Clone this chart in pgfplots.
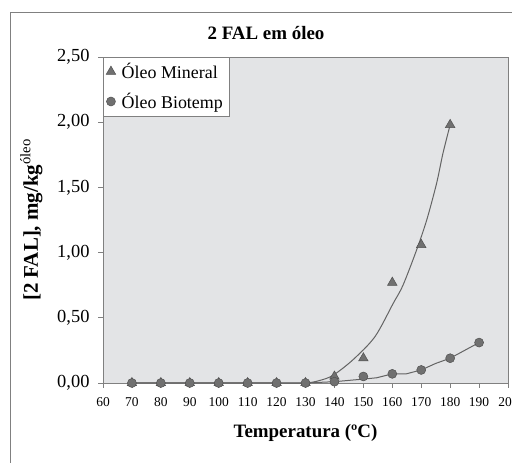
\documentclass[border=0pt]{standalone}
\usepackage{pgfplots}
\pgfplotsset{compat=1.18}
\usepackage{fontspec}
\setmainfont{Liberation Serif}
\definecolor{bgc}{RGB}{227,228,230}
\definecolor{mk}{RGB}{112,112,112}
\definecolor{mke}{RGB}{80,80,80}
\definecolor{ln}{RGB}{100,100,100}
\definecolor{ax}{RGB}{128,128,128}
\begin{document}
\begin{tikzpicture}[x=1bp,y=1bp]
\useasboundingbox (0,0) rectangle (512,463);
\draw[ax, line width=0.8bp] (10,0) -- (10,451) -- (512,451);
\node[font=\fontsize{19}{21}\selectfont\bfseries] at (266,430) {2 FAL em óleo};
\begin{axis}[
  at={(103bp,80bp)}, anchor=south west,
  width=405bp, height=326bp, scale only axis,
  xmin=60, xmax=200, ymin=0, ymax=2.5,
  xtick={60,70,...,200}, ytick={0,0.5,...,2.5},
  xticklabels={60,70,80,90,100,110,120,130,140,150,160,170,180,190,{\makebox[0pt][c]{\hspace*{-6bp}20}}},
  axis background/.style={fill=bgc},
  axis line style={ax, line width=0.8bp},
  tick style={ax, line width=0.8bp},
  tick align=outside, major tick length=5bp,
  xtick pos=bottom, ytick pos=left,
  /pgf/number format/assume math mode=true,
  yticklabel style={/pgf/number format/.cd, fixed, fixed zerofill, precision=2, use comma, /tikz/.cd, font=\fontsize{18.5}{20}\selectfont, xshift=-5bp},
  xticklabel style={font=\fontsize{13.5}{14}\selectfont, yshift=-6bp},
  xlabel={Temperatura (ºC)},
  ylabel={[2 FAL], mg/kg\textsuperscript{\mdseries óleo}},
  xlabel style={font=\fontsize{19}{21}\selectfont\bfseries, at={(axis description cs:0.5,0)}, anchor=north, yshift=-38bp},
  ylabel style={font=\fontsize{21}{23}\selectfont\bfseries, at={(axis description cs:0,0.5)}, anchor=south, yshift=57bp},
  clip=false,
  legend style={at={(rel axis cs:0,1)}, anchor=north west, draw=ax, fill=white, font=\fontsize{18}{21}\selectfont, inner xsep=3bp, inner ysep=4bp, row sep=9bp, column sep=3bp, cells={anchor=west}, nodes={inner xsep=3bp}},
]
\addplot[ln, line width=1bp, smooth, forget plot] coordinates {
(70,0)(80,0)(90,0)(100,0)(110,0)(120,0)(130,0)(135,0.02)(139.6,0.06)(146.5,0.18)(154,0.355)(160.3,0.61)(163.7,0.75)(168.4,1.02)(171.9,1.25)(175.3,1.53)(177.5,1.76)(180,1.98)};
\addplot[ln, line width=1bp, forget plot] coordinates {
(70,0)(80,0)(90,0)(100,0)(110,0)(120,0)(130,0)(140,0.01)(150,0.03)(154.6,0.04)(160,0.07)(164.8,0.07)(170,0.10)(175,0.15)(180,0.19)(185,0.25)(190,0.31)};
\addplot[only marks, mark=triangle*, mark size=5.5bp, mark options={fill=mk, draw=mke, line width=0.5bp}] coordinates {
(70,0)(80,0)(90,0)(100,0)(110,0)(120,0)(130,0)(140,0.05)(150,0.19)(160,0.77)(170,1.06)(180,1.98)};
\addlegendentry{Óleo Mineral}
\addplot[only marks, mark=*, mark size=4.5bp, mark options={fill=mk, draw=mke, line width=0.5bp}] coordinates {
(70,0)(80,0)(90,0)(100,0)(110,0)(120,0)(130,0)(140,0.01)(150,0.05)(160,0.07)(170,0.10)(180,0.19)(190,0.31)};
\addlegendentry{Óleo Biotemp}
\end{axis}
\end{tikzpicture}
\end{document}
